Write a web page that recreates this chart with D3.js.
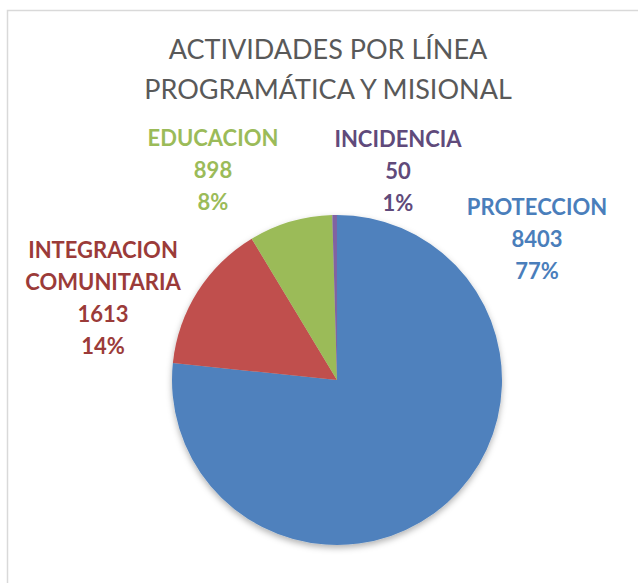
<!DOCTYPE html>
<html><head><meta charset="utf-8">
<script src="https://cdn.jsdelivr.net/npm/d3@7"></script>
<style>body{margin:0;background:#fff}svg{display:block}</style>
</head><body>
<script>
const categories = ["PROTECCION", "INTEGRACION COMUNITARIA", "EDUCACION", "INCIDENCIA"];
const values = [8403, 1613, 898, 50];
const percentLabels = ["77%", "14%", "8%", "1%"];
const sliceColors = ["#4F81BD", "#C0504D", "#9BBB59", "#8064A2"];
const labelColors = ["#4A7EBB", "#9B3B39", "#9BBB59", "#604A7B"];
const titleLines = ["ACTIVIDADES POR LÍNEA", "PROGRAMÁTICA Y MISIONAL"];

const W = 638, H = 583;
const svg = d3.select("body").append("svg").attr("width", W).attr("height", H);

// chart frame
svg.append("path").attr("d", `M7.5,${H}V10.5H${W}`).attr("fill", "none")
  .attr("stroke", "#d9d9d9").attr("stroke-width", 1.5);

// title
svg.append("g").selectAll("text").data(titleLines).join("text")
  .attr("x", 328).attr("y", (d, i) => 59 + i * 40)
  .attr("text-anchor", "middle").attr("fill", "#595959")
  .style("font-family", "Lato, 'Open Sans', sans-serif").style("font-size", "27px")
  .text(d => d);

const defs = svg.append("defs");
const f = defs.append("filter").attr("id", "sh").attr("x", "-20%").attr("y", "-20%").attr("width", "140%").attr("height", "140%");
f.append("feDropShadow").attr("dx", 0).attr("dy", 3).attr("stdDeviation", 3)
  .attr("flood-color", "#000").attr("flood-opacity", 0.3);

const cx = 337, cy = 380, r = 165;
const data = categories.map((c, i) => ({ c, v: values[i], p: percentLabels[i], i }));
const pie = d3.pie().value(d => d.v).sort(null);
const arc = d3.arc().innerRadius(0).outerRadius(r);
const g = svg.append("g").attr("transform", `translate(${cx},${cy})`).attr("filter", "url(#sh)");
g.selectAll("path").data(pie(data)).join("path")
  .attr("d", arc).attr("fill", d => sliceColors[d.data.i]);

// labels
const labelPos = [
  { x: 537, y: 215 },
  { x: 103, y: 258 },
  { x: 213, y: 146 },
  { x: 398, y: 147 }
];
const lg = svg.append("g").style("font-family", "Lato, 'Open Sans', sans-serif")
  .style("font-size", "22px").style("font-weight", "bold");
data.forEach((d, i) => {
  const lines = d.c.split(" ").concat([String(d.v), d.p]);
  lg.append("g").selectAll("text").data(lines).join("text")
    .attr("x", labelPos[i].x).attr("y", (t, k) => labelPos[i].y + k * 32)
    .attr("text-anchor", "middle").attr("fill", labelColors[i])
    .text(t => t);
});
</script>
</body></html>
